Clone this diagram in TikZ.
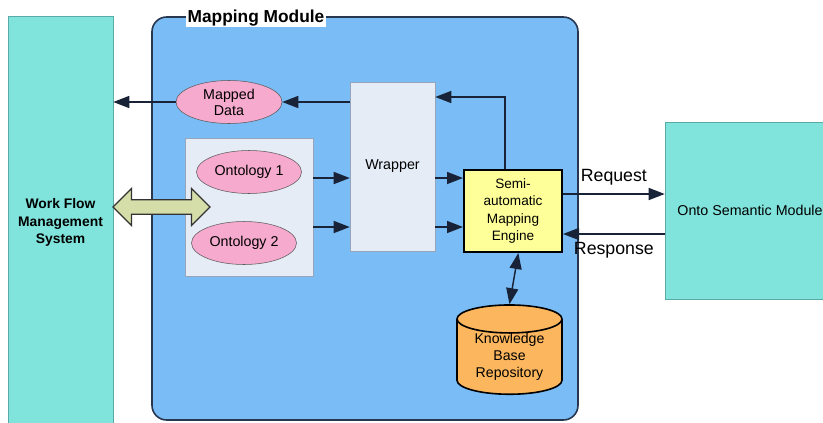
\documentclass[tikz,border=0pt]{standalone}
\usepackage{fontspec}
\setmainfont{Liberation Sans}
\usepackage{xcolor}
\usepackage{tikz}
\usetikzlibrary{positioning, arrows.meta, shapes.geometric, shapes.arrows}

\definecolor{sysgreen}{RGB}{128,228,220}
\definecolor{sysline}{RGB}{90,170,165}
\definecolor{modblue}{RGB}{121,188,246}
\definecolor{modline}{RGB}{40,55,80}
\definecolor{paleblue}{RGB}{230,236,246}
\definecolor{paleline}{RGB}{150,165,185}
\definecolor{ovalpink}{RGB}{246,170,205}
\definecolor{engyellow}{RGB}{255,255,153}
\definecolor{kborange}{RGB}{251,182,94}
\definecolor{linkkhaki}{RGB}{213,221,169}
\definecolor{wire}{RGB}{25,35,55}

\begin{document}
\begin{tikzpicture}[x=0.75pt, y=-0.75pt,
    bigtip/.tip={Triangle[length=12pt,width=9pt]},
    box/.style={rectangle, inner sep=0pt, align=center},
    oval/.style={ellipse, draw=black!65, fill=ovalpink, minimum width=78.75pt,
        minimum height=32.25pt, inner sep=0pt, align=center,
        font=\fontsize{10.7}{12}\selectfont},
    conn/.style={-{bigtip}, line width=1.1pt, draw=wire}]

    \useasboundingbox (0,0) rectangle (823,422);

    % Outer systems
    \node[box, draw=sysline, fill=sysgreen, minimum width=78.75pt, minimum height=309pt,
        font=\bfseries\fontsize{10.4}{13}\selectfont] (wfms) at (60.5,222.5)
        {Work Flow\\Management\\System};
    \node[box, draw=sysline, fill=sysgreen, minimum width=127.5pt, minimum height=132.75pt,
        font=\fontsize{10.7}{13}\selectfont] (osm) at (750,210.5) {Onto Semantic Module};

    % Mapping module frame
    \node[box, draw=modline, line width=1.2pt, fill=modblue, rounded corners=11pt,
        minimum width=319.5pt, minimum height=302.25pt] (module) at (365,218.5) {};
    \node[fill=white, inner sep=1pt, font=\bfseries\fontsize{13}{15}\selectfont]
        (title) at (256,18) {Mapping Module};

    % Ontologies
    \node[box, draw=paleline, fill=paleblue, minimum width=96pt, minimum height=103.5pt]
        (ontgroup) at (249,207) {};
    \node[oval] (ont1) at (249,172) {Ontology 1};
    \node[oval] (ont2) at (244,243) {Ontology 2};
    \node[oval, minimum width=79.5pt] (mapped) at (229,102) {Mapped\\Data};

    % Wrapper and engine
    \node[box, draw=paleline, fill=paleblue, minimum width=63.75pt, minimum height=126.75pt,
        font=\fontsize{10.7}{12}\selectfont] (wrapper) at (392.5,166.5) {Wrapper};
    \node[box, draw=black, line width=1.5pt, fill=engyellow, minimum width=73.5pt,
        minimum height=61.5pt, font=\fontsize{10.2}{13.2}\selectfont] (engine) at (513,211)
        {Semi-\\automatic\\Mapping\\Engine};

    % Repository
    \node[cylinder, shape border rotate=90, aspect=0.4, draw=black, line width=1.2pt,
        fill=kborange, minimum width=78.75pt, inner sep=0pt,
        align=center, font=\fontsize{10.6}{12.5}\selectfont] (kb) at (509.5,357)
        {Knowledge\\Base\\Repository};

    % Link to the work flow system
    \node[double arrow, draw=black!80, line width=1pt, fill=linkkhaki, inner xsep=0pt,
        inner ysep=4.9pt, double arrow head extend=8.5pt, minimum height=72.75pt]
        (link) at (161.5,207) {};

    % Arrow rows
    \coordinate (upper) at (0,178);
    \coordinate (lower) at (0,227);
    \coordinate (ret) at (505,97);
    \coordinate (req) at (0,194);
    \coordinate (resp) at (0,234);

    \draw[conn] (ontgroup.east |- upper) -- (wrapper.west |- upper);
    \draw[conn] (ontgroup.east |- lower) -- (wrapper.west |- lower);
    \draw[conn] (wrapper.east |- upper) -- (engine.west |- upper);
    \draw[conn] (wrapper.east |- lower) -- (engine.west |- lower);
    \draw[conn] (engine.north -| ret) |- (wrapper.east |- ret);
    \draw[conn] (wrapper.west |- mapped) -- (mapped.east);
    \draw[conn] (mapped.west) -- (wfms.east |- mapped);
    \draw[conn, {bigtip}-{bigtip}] ([xshift=4pt]engine.south) -- (kb.north);

    % Request / response
    \draw[conn] (engine.east |- req) -- node[above=3pt, font=\fontsize{13.3}{15}\selectfont]
        {Request} (osm.west |- req);
    \draw[conn] (osm.west |- resp) -- node[below=2pt, font=\fontsize{13.3}{15}\selectfont]
        {Response} (engine.east |- resp);

\end{tikzpicture}
\end{document}
